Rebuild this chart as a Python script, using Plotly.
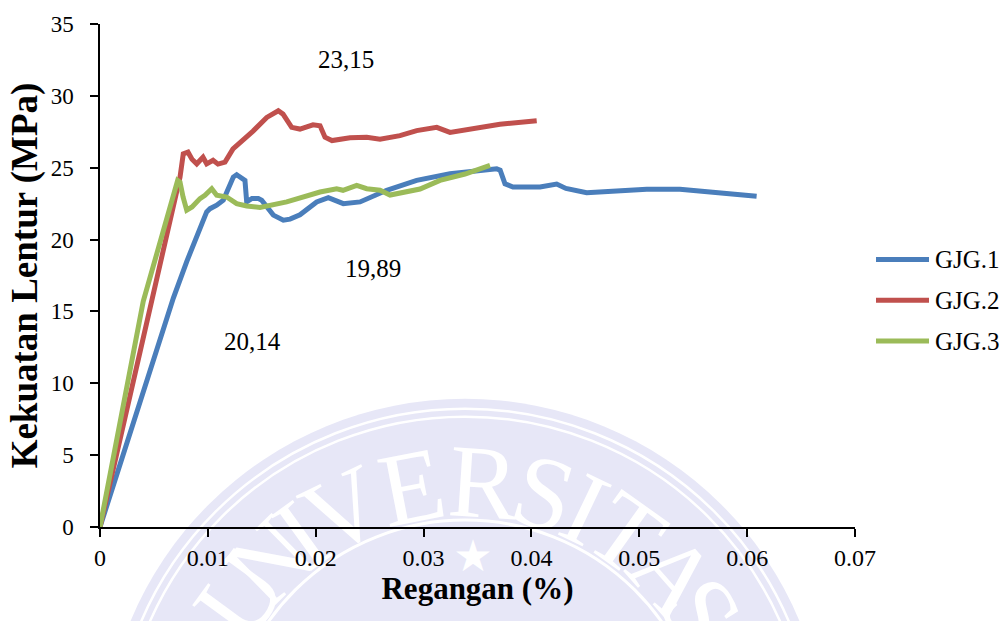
import math
import plotly.graph_objects as go

# Flexural test curves: strain (%) vs flexural strength (MPa)
series_names = ["GJG.1", "GJG.2", "GJG.3"]
series_colors = ["#4A7EBB", "#C0504D", "#9BBB59"]

gjg1_strain = [0, 0.0068, 0.00804, 0.00989, 0.0102, 0.01082, 0.01143, 0.01236, 0.01267,
               0.01298, 0.01344, 0.0136, 0.01409, 0.01468, 0.01499, 0.01607, 0.017,
               0.01762, 0.01854, 0.02009, 0.02117, 0.02256, 0.02411, 0.02658, 0.02936,
               0.03245, 0.03523, 0.03678, 0.0371, 0.03755, 0.03829, 0.0408, 0.04234,
               0.0432, 0.04512, 0.04756, 0.05069, 0.05377, 0.05683, 0.05934, 0.06088]
gjg1_stress = [0, 15.93, 18.47, 21.93, 22.15, 22.39, 22.74, 24.35, 24.51,
               24.35, 24.12, 22.62, 22.86, 22.85, 22.74, 21.7, 21.35,
               21.42, 21.72, 22.62, 22.92, 22.5, 22.62, 23.43, 24.12,
               24.58, 24.83, 24.92, 24.83, 23.88, 23.66, 23.66, 23.86,
               23.56, 23.26, 23.36, 23.5, 23.5, 23.31, 23.17, 23.01]

gjg2_strain = [0, 0.00473, 0.00742, 0.00772, 0.00816, 0.00853, 0.00897, 0.00955, 0.00989,
               0.01048, 0.01094, 0.01159, 0.01233, 0.01419, 0.01546, 0.01653, 0.01697,
               0.01777, 0.01854, 0.01975, 0.0204, 0.02086, 0.02151, 0.02318, 0.02473,
               0.02596, 0.02781, 0.02936, 0.03122, 0.03245, 0.03461, 0.03708, 0.04049]
gjg2_stress = [0, 15.7, 24.35, 25.96, 26.08, 25.59, 25.27, 25.73, 25.27,
               25.52, 25.25, 25.39, 26.31, 27.55, 28.5, 28.96, 28.73,
               27.81, 27.69, 27.98, 27.92, 27.12, 26.89, 27.08, 27.12,
               26.98, 27.23, 27.58, 27.81, 27.46, 27.69, 28.03, 28.27]

gjg3_strain = [0, 0.00401, 0.0072, 0.00742, 0.0077, 0.00804, 0.00853, 0.00927, 0.00973,
               0.01036, 0.01082, 0.01175, 0.01267, 0.0136, 0.01483, 0.01607, 0.01731,
               0.0204, 0.02194, 0.02253, 0.0238, 0.02473, 0.02596, 0.02689, 0.02843,
               0.02967, 0.03152, 0.03384, 0.03616]
gjg3_stress = [0, 15.7, 24.12, 24.0, 22.96, 22.05, 22.27, 22.85, 23.08,
               23.54, 23.08, 22.96, 22.5, 22.34, 22.24, 22.46, 22.62,
               23.31, 23.54, 23.43, 23.77, 23.54, 23.43, 23.1, 23.31,
               23.52, 24.12, 24.56, 25.16]

# Value labels placed on the chart
label_texts = ["23,15", "19,89", "20,14"]
label_x = [0.0228, 0.0253, 0.0141]
label_y = [32.5, 18.0, 12.9]

x_tick_vals = [0, 0.01, 0.02, 0.03, 0.04, 0.05, 0.06, 0.07]
x_tick_text = ["0", "0.01", "0.02", "0.03", "0.04", "0.05", "0.06", "0.07"]
y_tick_vals = [0, 5, 10, 15, 20, 25, 30, 35]

FONT = "Liberation Serif, Times New Roman, serif"

fig = go.Figure()
for name, color, xs, ys in zip(series_names, series_colors,
                               [gjg1_strain, gjg2_strain, gjg3_strain],
                               [gjg1_stress, gjg2_stress, gjg3_stress]):
    fig.add_trace(go.Scatter(x=xs, y=ys, mode="lines", name=name,
                             line=dict(color=color, width=5, shape="linear"),
                             showlegend=False))

# --- pixel helpers for decoration in paper coordinates ---
W, H = 1007, 621
L, R, T, B = 100, 152, 21, 94
PW, PH = W - L - R, H - T - B


def px(xp):
    return (xp - L) / PW


def py(yp):
    return (H - B - yp) / PH


shapes = []
annotations = []

# faint university seal in the background
cx, cy = 465, 760
lav = "#E7E7F7"
shapes.append(dict(type="circle", xref="paper", yref="paper", layer="below",
                   x0=px(cx - 362), x1=px(cx + 362), y0=py(cy + 362), y1=py(cy - 362),
                   fillcolor=lav, line=dict(width=0)))
for r, w in [(352, 2.5), (344, 2.5), (240, 3)]:
    shapes.append(dict(type="circle", xref="paper", yref="paper", layer="below",
                       x0=px(cx - r), x1=px(cx + r), y0=py(cy + r), y1=py(cy - r),
                       line=dict(color="white", width=w)))
seal_letters = list("UNIVERSITAS")
seal_angles = [-54, -44.5, -36, -26, -11, 3.8, 16.5, 25.6, 35.5, 48.5, 58]
for ch, ang in zip(seal_letters, seal_angles):
    a = math.radians(ang)
    lx = cx + 290 * math.sin(a)
    ly = cy - 290 * math.cos(a)
    shapes.append(dict(type="rect", xref="paper", yref="paper", layer="below",
                       x0=px(lx - 5), x1=px(lx + 5), y0=py(ly + 5), y1=py(ly - 5),
                       line=dict(width=0), fillcolor="rgba(0,0,0,0)",
                       label=dict(text=ch, textangle=ang, textposition="middle center",
                                  font=dict(family=FONT, size=104, color="white"))))
shapes.append(dict(type="rect", xref="paper", yref="paper", layer="below",
                   x0=px(470), x1=px(476), y0=py(556), y1=py(550),
                   line=dict(width=0), fillcolor="rgba(0,0,0,0)",
                   label=dict(text="★", textposition="middle center",
                              font=dict(family="DejaVu Sans", size=44, color="white"))))

# legend drawn to the right of the plot area
legend_rows = [258, 299, 340]
for name, color, yrow in zip(series_names, series_colors, legend_rows):
    shapes.append(dict(type="line", xref="paper", yref="paper",
                       x0=px(876), x1=px(929), y0=py(yrow), y1=py(yrow),
                       line=dict(color=color, width=5)))
    annotations.append(dict(xref="paper", yref="paper", x=px(933), y=py(yrow),
                            text=name, showarrow=False, xanchor="left", yanchor="middle",
                            font=dict(family=FONT, size=25, color="black")))

for t, x, y in zip(label_texts, label_x, label_y):
    annotations.append(dict(x=x, y=y, text=t, showarrow=False,
                            font=dict(family=FONT, size=25, color="black")))

fig.update_layout(
    width=W, height=H,
    margin=dict(l=L, r=R, t=T, b=B, pad=0),
    paper_bgcolor="white", plot_bgcolor="rgba(0,0,0,0)",
    font=dict(family=FONT, color="black"),
    shapes=shapes, annotations=annotations,
    showlegend=False,
)
fig.update_xaxes(range=[0, 0.07], tickvals=x_tick_vals, ticktext=x_tick_text,
                 showgrid=False, zeroline=False, showline=True, linecolor="black",
                 linewidth=1.5, ticks="outside", ticklen=8, tickwidth=1.5, tickcolor="black",
                 tickfont=dict(family=FONT, size=24), ticklabelstandoff=0,
                 title=dict(text="<b>Regangan (%)</b>", font=dict(family=FONT, size=31),
                            standoff=8))
fig.update_yaxes(range=[0, 35], tickvals=y_tick_vals,
                 showgrid=False, zeroline=False, showline=True, linecolor="black",
                 linewidth=1.5, ticks="outside", ticklen=8, tickwidth=1.5, tickcolor="black",
                 tickfont=dict(family=FONT, size=23), ticklabelstandoff=12,
                 title=dict(text="<b>Kekuatan Lentur (MPa)</b>", font=dict(family=FONT, size=37),
                            standoff=2))

fig.write_html("out.html")
